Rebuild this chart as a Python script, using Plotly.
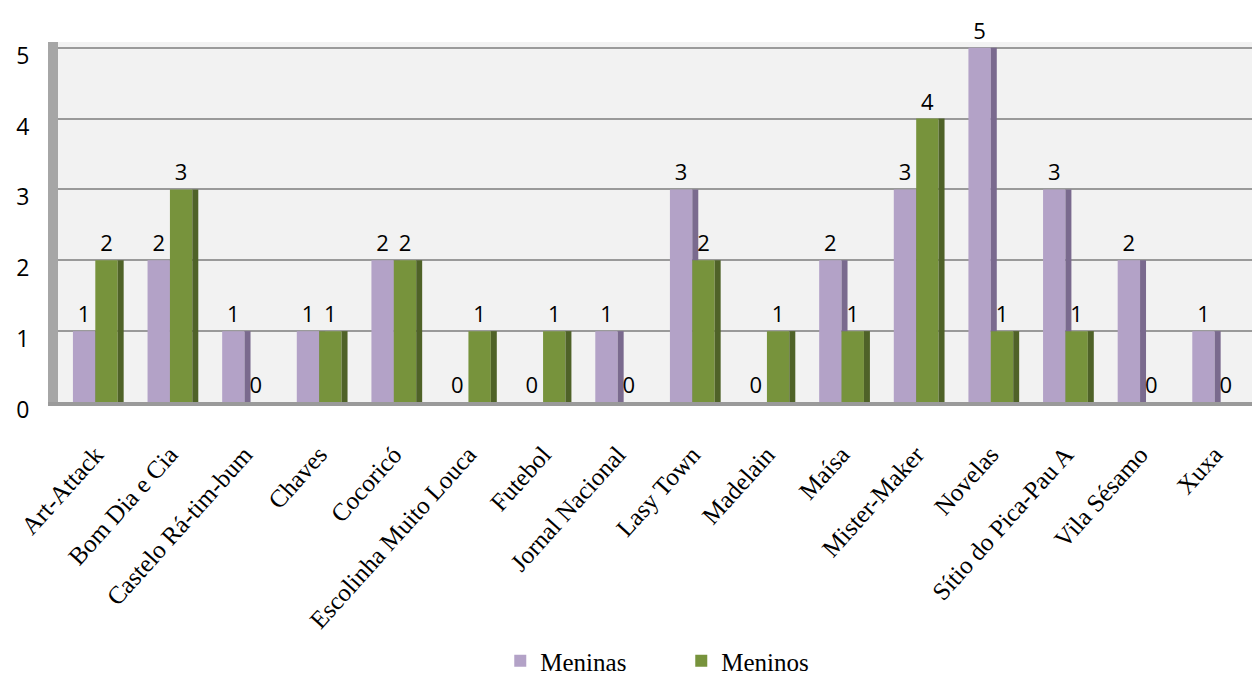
import plotly.graph_objects as go

categories = ["Art-Attack", "Bom Dia e Cia", "Castelo Rá-tim-bum", "Chaves", "Cocoricó",
              "Escolinha Muito Louca", "Futebol", "Jornal Nacional", "Lasy Town", "Madelain",
              "Maísa", "Mister-Maker", "Novelas", "Sítio do Pica-Pau A", "Vila Sésamo", "Xuxa"]
meninas = [1, 2, 1, 1, 2, 0, 0, 1, 3, 0, 2, 3, 5, 3, 2, 1]
meninos = [2, 3, 0, 1, 2, 1, 1, 0, 2, 1, 1, 4, 1, 1, 0, 0]
y_ticks = [0, 1, 2, 3, 4, 5]

x = list(range(len(categories)))
FW = 0.30   # front face width
SW = 0.08   # side face width
LABEL_FONT = dict(family="Open Sans, Liberation Sans", size=22, color="#000")

fig = go.Figure()
# Meninas front
fig.add_trace(go.Bar(x=x, y=meninas, offset=-FW, width=FW, name="Meninas",
                     marker=dict(color="#b3a2c7", line=dict(width=0)),
                     text=[str(v) for v in meninas], textposition="outside",
                     textfont=LABEL_FONT, constraintext="none", cliponaxis=False))
# Meninas side
fig.add_trace(go.Bar(x=x, y=meninas, offset=0, width=SW, showlegend=False, hoverinfo="skip",
                     marker=dict(color="#7a6a8e", line=dict(width=0))))
# Meninos front
fig.add_trace(go.Bar(x=x, y=meninos, offset=0, width=FW, name="Meninos",
                     marker=dict(color="#77933c", line=dict(width=0)),
                     text=[str(v) for v in meninos], textposition="outside",
                     textfont=LABEL_FONT, constraintext="none", cliponaxis=False))
# Meninos side
fig.add_trace(go.Bar(x=x, y=meninos, offset=FW, width=SW, showlegend=False, hoverinfo="skip",
                     marker=dict(color="#4f6228", line=dict(width=0))))

fig.update_layout(
    barmode="overlay",
    width=1255, height=684,
    margin=dict(l=58, r=3, t=42, b=282, autoexpand=False),
    paper_bgcolor="white",
    plot_bgcolor="#f2f2f2",
    showlegend=True,
    legend=dict(orientation="h", x=0.522, xanchor="center",
                yref="container", y=0.0, yanchor="bottom",
                font=dict(family="Liberation Serif, Times New Roman", size=25, color="#000"),
                itemwidth=30, tracegroupgap=0, entrywidth=136),
    xaxis=dict(
        tickmode="array", tickvals=x, ticktext=categories,
        range=[-0.5, len(categories) - 0.5],
        tickangle=-48,
        tickfont=dict(family="Liberation Serif, Times New Roman", size=25, color="#000"),
        showgrid=False, zeroline=False,
        showline=True, linecolor="#9a9a9a", linewidth=4,
        ticks="", ticklabelstandoff=24,
    ),
    yaxis=dict(
        range=[0, 5.08], tickmode="array", tickvals=y_ticks,
        tickfont=dict(family="Open Sans, Liberation Sans", size=23, color="#000"),
        showgrid=True, gridcolor="#9a9a9a", gridwidth=2,
        zeroline=False,
        showline=True, linecolor="#a6a6a6", linewidth=10,
        ticklabelstandoff=14, ticklabelshift=8,
    ),
)

fig.write_html("out.html")
